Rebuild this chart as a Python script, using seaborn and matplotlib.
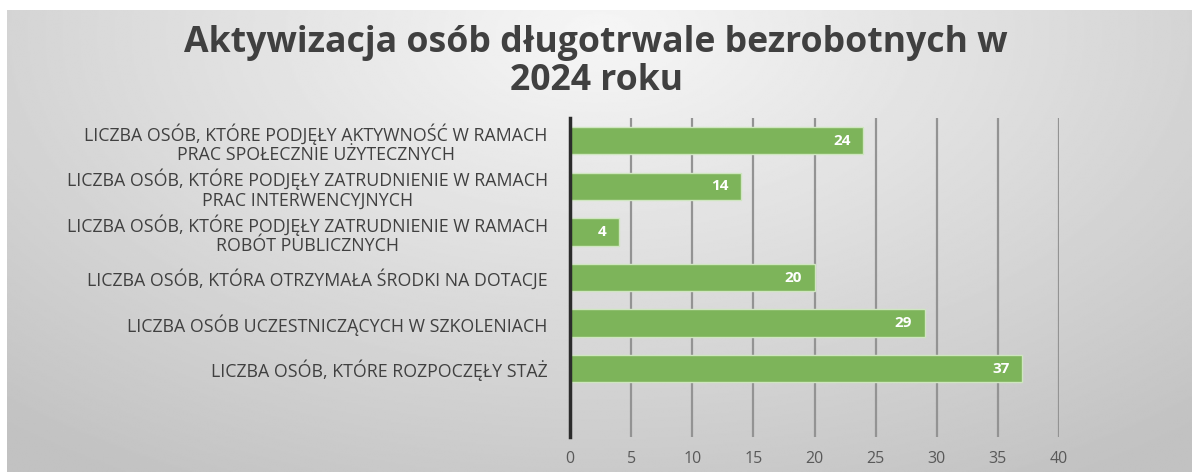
import matplotlib
matplotlib.use('Agg')
import matplotlib.pyplot as plt
import seaborn as sns
import pandas as pd
import numpy as np

# values
categories = [
    'LICZBA OSÓB, KTÓRE PODJĘŁY AKTYWNOŚĆ W RAMACH\nPRAC SPOŁECZNIE UŻYTECZNYCH',
    'LICZBA OSÓB, KTÓRE PODJĘŁY ZATRUDNIENIE W RAMACH\nPRAC INTERWENCYJNYCH',
    'LICZBA OSÓB, KTÓRE PODJĘŁY ZATRUDNIENIE W RAMACH\nROBÓT PUBLICZNYCH',
    'LICZBA OSÓB, KTÓRA OTRZYMAŁA ŚRODKI NA DOTACJE',
    'LICZBA OSÓB UCZESTNICZĄCYCH W SZKOLENIACH',
    'LICZBA OSÓB, KTÓRE ROZPOCZĘŁY STAŻ',
]
values = [24, 14, 4, 20, 29, 37]
x_ticks = [0, 5, 10, 15, 20, 25, 30, 35, 40]
title = 'Aktywizacja osób długotrwale bezrobotnych w\n2024 roku'

df = pd.DataFrame({'kategoria': categories, 'liczba': values})

sns.set_theme(style='white')
plt.rcParams['font.family'] = ['Open Sans', 'DejaVu Sans']

W, H = 1192, 472
fig = plt.figure(figsize=(W / 100, H / 100), dpi=100)
fig.patch.set_facecolor('white')

# gray radial gradient background of the chart area
bg = fig.add_axes([7 / W, 0, (W - 7) / W, (H - 10) / H], zorder=-5)
yy, xx = np.mgrid[0:1:300j, 0:1:600j]
r = np.sqrt(((xx - 0.5) / 0.75) ** 2 + ((yy - 0.05) / 1.1) ** 2)
shade = np.clip(0.965 - 0.2 * r, 0.76, 0.97)
bg.imshow(shade, cmap='gray', vmin=0, vmax=1, aspect='auto',
          extent=[0, 1, 1, 0], interpolation='bilinear')
bg.axis('off')

ax = fig.add_axes([570 / W, 1 - 437 / H, (1059 - 570) / W, (437 - 118) / H])
ax.set_facecolor('none')

sns.barplot(data=df, y='kategoria', x='liczba', orient='h', color='#7db45a',
            saturation=1, width=0.6, edgecolor='#cfe6c0', linewidth=1,
            ax=ax, zorder=3)

for val, cat in zip(df['liczba'], range(len(df))):
    ax.annotate(str(val), xy=(val, cat), xytext=(-9, 0),
                textcoords='offset points', ha='right', va='center',
                color='white', fontsize=11, fontweight='bold', zorder=4)

ax.set_xlim(0, 40)
ax.set_ylim(6.5, -0.5)
ax.set_xticks(x_ticks)
ax.set_xlabel('')
ax.set_ylabel('')
ax.grid(True, axis='x', color='#939393', linewidth=1.6, zorder=1)
ax.grid(False, axis='y')
for s in ['top', 'right', 'bottom']:
    ax.spines[s].set_visible(False)
ax.spines['left'].set_color('#2b2b2b')
ax.spines['left'].set_linewidth(2.5)
ax.spines['left'].set_zorder(5)
ax.tick_params(axis='x', length=0, pad=10, labelsize=11.5, labelcolor='#595959')
ax.tick_params(axis='y', length=0, pad=16, labelsize=12.8, labelcolor='#404040')
for lab in ax.get_yticklabels():
    lab.set_multialignment('center')
    lab.set_linespacing(1.12)

fig.text(596 / W, 1 - 62 / H, title, ha='center', va='center',
         fontsize=25.7, fontweight='bold', color='#404040', linespacing=1.05)

fig.savefig('out.png', dpi=100)
